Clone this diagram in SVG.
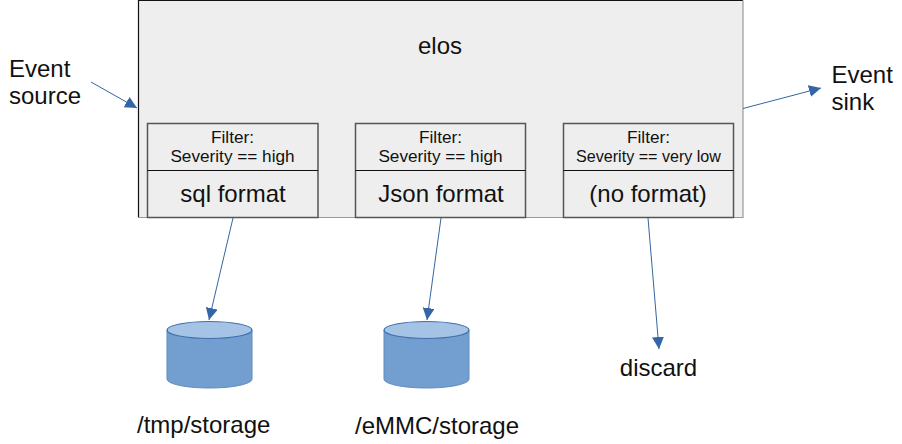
<svg xmlns="http://www.w3.org/2000/svg" width="902" height="444" viewBox="0 0 902 444">
<defs>
<marker id="arrow" markerUnits="userSpaceOnUse" markerWidth="13" markerHeight="13" refX="12" refY="6" orient="auto"><path d="M0,0 L12,6 L0,12 Z" fill="#3465a4"/></marker>
</defs>
<style>
text{font-family:"Liberation Sans",Arial,sans-serif;fill:#111;text-anchor:middle}
.big{font-size:24px}
.label{font-size:24px;text-anchor:start}
.small{font-size:17.200px}
.tiny{font-size:16.100px}
.box{fill:#eeeeee;stroke:#555;stroke-width:1.500}
.sep{stroke:#111;stroke-width:1.200}
.conn{stroke:#3465a4;stroke-width:1;fill:none;marker-end:url(#arrow)}
.cylb{fill:#729fcf;stroke:#5f8cc2;stroke-width:1}
.cylt{fill:#a5c4e5;stroke:#3f6fae;stroke-width:1.200}
</style>
<rect width="902" height="444" fill="#fff"/>
<g id="elos">
<rect x="138.500" y="0.500" width="604.500" height="217" fill="#eeeeee" stroke="none"/>
<path d="M138.500,217.500 V0.500 H743" fill="none" stroke="#111" stroke-width="1.200"/>
<path d="M138.500,217.500 H743 V0.500" fill="none" stroke="#999" stroke-width="1.200"/>
<text class="big" x="440" y="53.500">elos</text>
</g>
<g id="filter-sql">
<rect class="box" x="147.500" y="123.500" width="170.500" height="94"/>
<line class="sep" x1="147.500" y1="170.500" x2="318" y2="170.500"/>
<text class="small" x="232.500" y="143">Filter:</text>
<text class="small" x="232.500" y="162">Severity == high</text>
<text class="big" x="233" y="202">sql format</text>
</g>
<g id="filter-json">
<rect class="box" x="355.500" y="123.500" width="170" height="94"/>
<line class="sep" x1="355.500" y1="170.500" x2="525.500" y2="170.500"/>
<text class="small" x="440.500" y="143">Filter:</text>
<text class="small" x="440.500" y="162">Severity == high</text>
<text class="big" x="441" y="202">Json format</text>
</g>
<g id="filter-none">
<rect class="box" x="563.500" y="123.500" width="170" height="94"/>
<line class="sep" x1="563.500" y1="170.500" x2="733.500" y2="170.500"/>
<text class="small" x="648.500" y="143">Filter:</text>
<text class="tiny" x="648.500" y="162">Severity == very low</text>
<text class="big" x="648" y="202">(no format)</text>
</g>
<g id="storage-tmp">
<path class="cylb" d="M167,330 V379 C167,384 186,388 209.500,388 C233,388 252,384 252,379 V330 Z"/>
<ellipse class="cylt" cx="209.500" cy="330" rx="42.500" ry="8.500"/>
<text class="label" x="137" y="433">/tmp/storage</text>
</g>
<g id="storage-emmc">
<path class="cylb" d="M384,330 V379 C384,384 403,388 426.500,388 C450,388 469,384 469,379 V330 Z"/>
<ellipse class="cylt" cx="426.500" cy="330" rx="42.500" ry="8.500"/>
<text class="label" x="355" y="434">/eMMC/storage</text>
</g>
<g id="discard"><text class="big" x="658.500" y="376">discard</text></g>
<g id="event-source">
<text class="label" x="9" y="77">Event</text>
<text class="label" x="9" y="104">source</text>
</g>
<g id="event-sink">
<text class="label" x="831.500" y="83">Event</text>
<text class="label" x="831.500" y="110">sink</text>
</g>
<g id="connectors">
<line class="conn" x1="91" y1="82" x2="137" y2="108"/>
<line class="conn" x1="743" y1="108.500" x2="821" y2="88"/>
<line class="conn" x1="233" y1="218" x2="209" y2="320"/>
<line class="conn" x1="441" y1="218" x2="427" y2="320"/>
<line class="conn" x1="648" y1="218" x2="659" y2="349"/>
</g>
</svg>
